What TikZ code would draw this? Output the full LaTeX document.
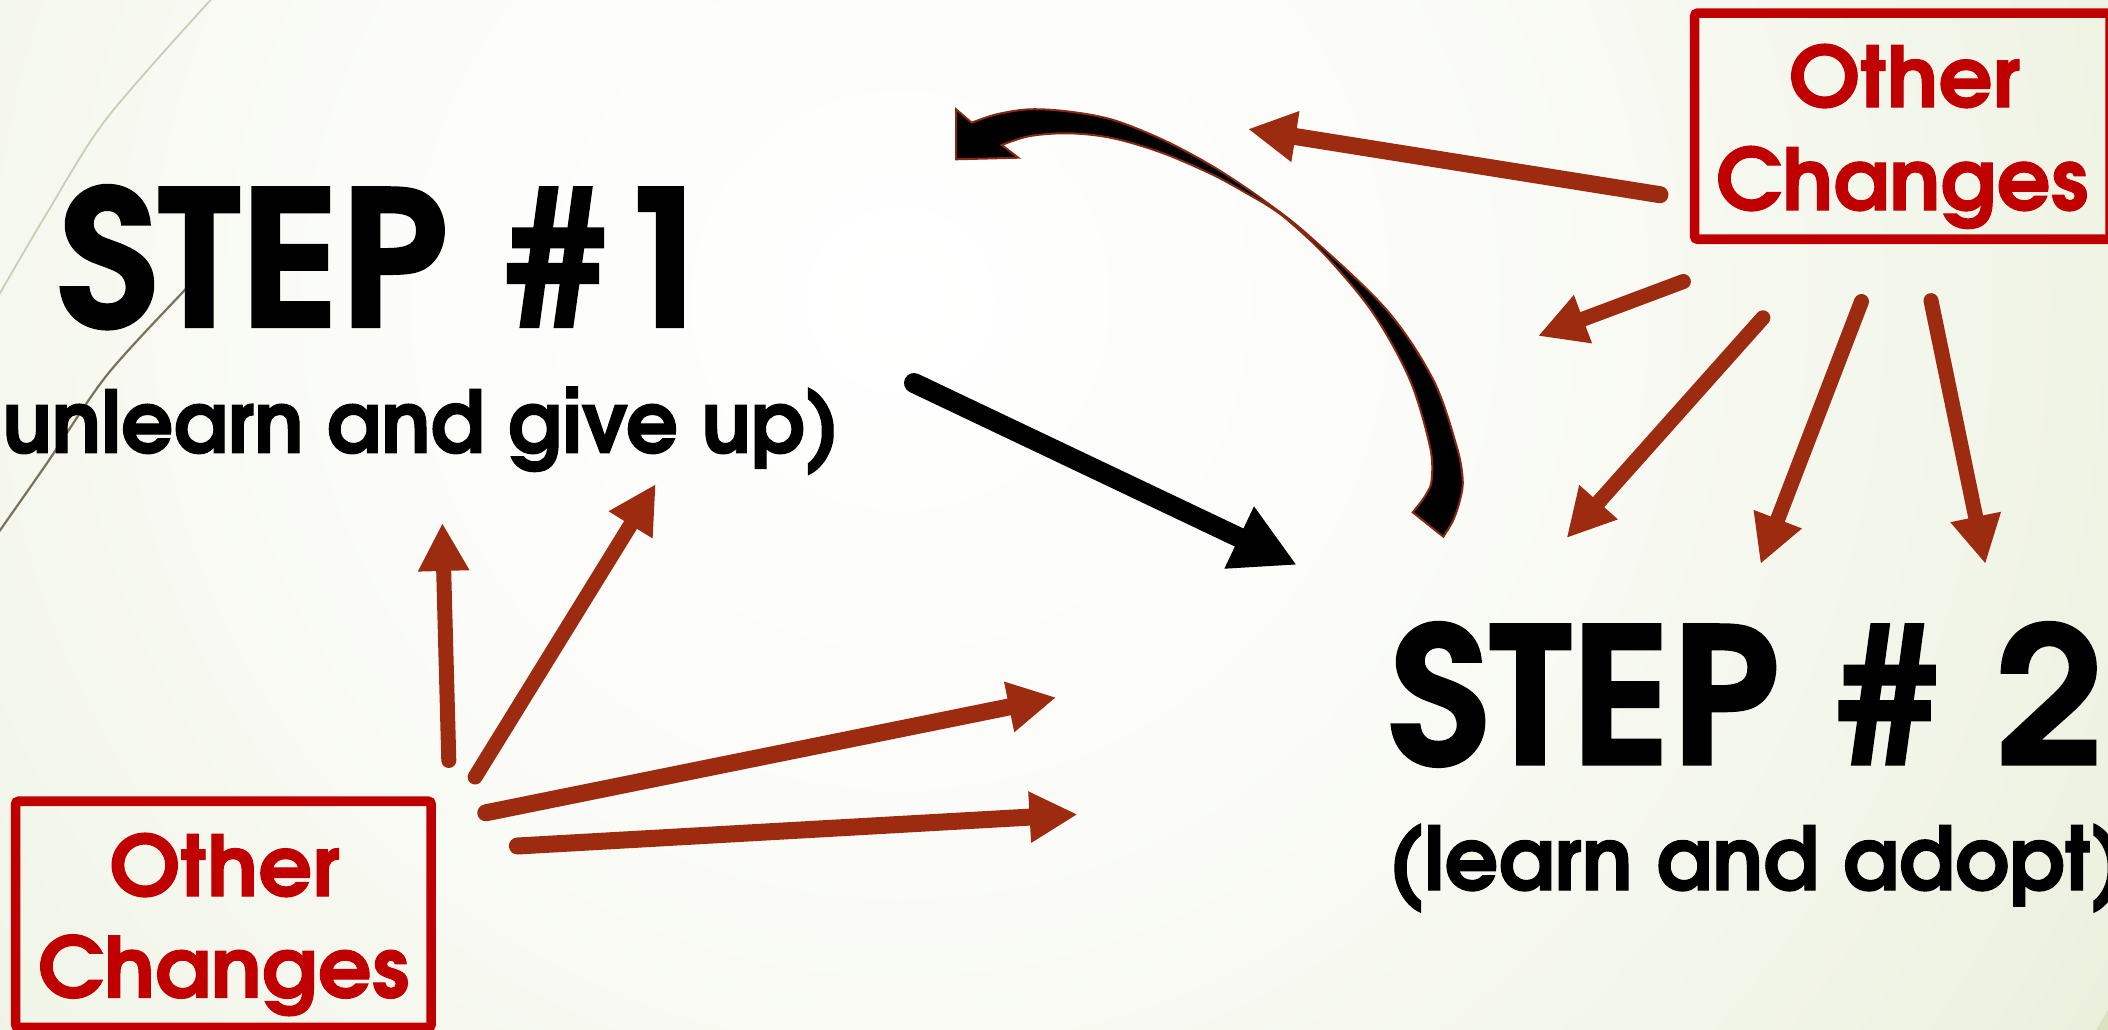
\documentclass[tikz,border=0pt]{standalone}
\usepackage{fontspec}
\setmainfont{texgyreadventor}[Extension=.otf, UprightFont=*-regular, BoldFont=*-bold, ItalicFont=*-italic, BoldItalicFont=*-bolditalic, BoldFeatures={FakeBold=1.2}]
\usetikzlibrary{arrows.meta}
\definecolor{bggreen}{HTML}{D8E2BE}
\definecolor{bgmid}{HTML}{E2E9CD}
\definecolor{bglight}{HTML}{F0F4E6}
\definecolor{bgwhite}{HTML}{FBFCF8}
\definecolor{boxred}{HTML}{C00000}
\definecolor{arrowbrown}{HTML}{9C2B0F}
\definecolor{outlinebrown}{HTML}{862812}
\definecolor{lightline}{HTML}{C9CFB4}
\definecolor{darkline}{HTML}{78735A}
\pgfdeclareradialshading{bgshade}{\pgfpoint{0bp}{0bp}}{color(0bp)=(white); color(10bp)=(bgwhite); color(21bp)=(bglight); color(32bp)=(bgmid); color(50bp)=(bggreen)}
\begin{document}
\begin{tikzpicture}[x=0.01cm,y=-0.01cm,
  txt/.style={inner sep=0pt, outer sep=0pt, font=\bfseries, text=black},
  redtxt/.style={inner sep=0pt, outer sep=0pt, font=\bfseries, text=boxred},
  ocbox/.style={draw=boxred, line width=0.096cm, minimum width=4.152cm, minimum height=2.26cm, inner sep=0pt, rounded corners=0.03cm},
  brarr/.style={draw=arrowbrown, line cap=round, line width=0.15cm, -{Triangle[length=0.48cm,width=0.48cm]}},
  blkarr/.style={draw=black, line cap=round, line width=0.2cm, -{Triangle[length=0.64cm,width=0.64cm]}}]
\useasboundingbox (0,0) rectangle (2108,1030);
\clip (0,0) rectangle (2108,1030);
% background
\fill[bggreen] (0,0) rectangle (2108,1030);
\shade[shading=bgshade] (900,300) circle (14cm);
% decorative theme lines
\draw[lightline, line width=0.018cm] plot[smooth] coordinates {(216,-6) (107,118) (46.4,214) (-4,300)};
\draw[darkline, line width=0.022cm] plot[smooth] coordinates {(205,268) (185.7,289) (107,375) (46.4,464) (-4,536)};
% boxes
\node[ocbox] (box1) at (1902.4,126.2) {};
\node[ocbox] (box2) at (223.4,914.3) {};
% texts
\node[txt, anchor=base west] (s1) at (58,327) {\resizebox{6.59cm}{1.42cm}{STEP \#1}};
\node[txt, anchor=base west] (s2) at (1389,764.5) {\resizebox{7.14cm}{1.425cm}{STEP \# 2}};
\node[txt, anchor=base east] (u1) at (840,452.8) {\resizebox{8.72cm}{0.66cm}{(unlearn and give up)}};
\node[txt, anchor=base west] (u2) at (1388,890) {\resizebox{7.38cm}{0.66cm}{(learn and adopt)}};
\node[redtxt, anchor=base west] (o1) at (1789,107) {\resizebox{2.31cm}{0.63cm}{Other}};
\node[redtxt, anchor=base west] (c1) at (1716,210) {\resizebox{3.72cm}{0.64cm}{Changes}};
\node[redtxt, anchor=base west] (o2) at (109.5,896) {\resizebox{2.3cm}{0.63cm}{Other}};
\node[redtxt, anchor=base west] (c2) at (38,997.5) {\resizebox{3.71cm}{0.63cm}{Changes}};
% curved black arrow (from step 2 back to step 1)
\filldraw[fill=black, draw=outlinebrown, line width=0.02cm, line join=miter]
  (956,159.3) -- (956,109.3) --
  plot[smooth, tension=0.55] coordinates {(971.7,122.7) (996.7,114.3) (1030,109.3) (1070,111.7) (1113.3,120) (1163.3,140) (1213.3,166.7) (1263.3,200) (1310,236.7) (1386.7,310) (1433.3,380) (1456.7,446.7) (1462.7,480) (1460,500) (1453.3,520) (1443.3,536.7)} --
  plot[smooth, tension=0.55] coordinates {(1412.7,512.3) (1420,503.3) (1426.7,493.3) (1431.7,480) (1430,446.7) (1410,380) (1373.3,313.3) (1326.7,256.7) (1290,222) (1270,207) (1246.7,193.3) (1213.3,175) (1163.3,153.3) (1113.3,138.3) (1070,133.3) (1030,136) (1001.7,145)} --
  (1018.3,157.7) -- cycle;
% straight black arrow
\coordinate (bs) at (914,383);
\coordinate (be) at (1297,565);
\draw[blkarr] (bs) -- (be);
% arrows from top-right box
\coordinate (a1s) at (1660,194.7); \coordinate (a1e) at (1248,129);
\coordinate (a2s) at (1683.4,281.5); \coordinate (a2e) at (1538,336);
\coordinate (a3s) at (1762.9,317.8); \coordinate (a3e) at (1566.6,538);
\coordinate (a4s) at (1861.5,301.5); \coordinate (a4e) at (1760.5,564);
\coordinate (a5s) at (1931,300.6); \coordinate (a5e) at (1985.4,564);
\draw[brarr, line width=0.17cm] (a1s) -- (a1e);
\draw[brarr] (a2s) -- (a2e);
\draw[brarr] (a3s) -- (a3e);
\draw[brarr] (a4s) -- (a4e);
\draw[brarr] (a5s) -- (a5e);
% arrows from bottom-left box
\coordinate (b1s) at (448.8,760.5); \coordinate (b1e) at (442.4,522.9);
\coordinate (b2s) at (475.1,777); \coordinate (b2e) at (655.8,484);
\coordinate (b3s) at (485.8,812.8); \coordinate (b3e) at (1056.2,697.4);
\coordinate (b4s) at (517.4,846); \coordinate (b4e) at (1077.6,814.4);
\draw[brarr] (b1s) -- (b1e);
\draw[brarr] (b2s) -- (b2e);
\draw[brarr, line width=0.17cm] (b3s) -- (b3e);
\draw[brarr, line width=0.17cm] (b4s) -- (b4e);
\end{tikzpicture}
\end{document}
